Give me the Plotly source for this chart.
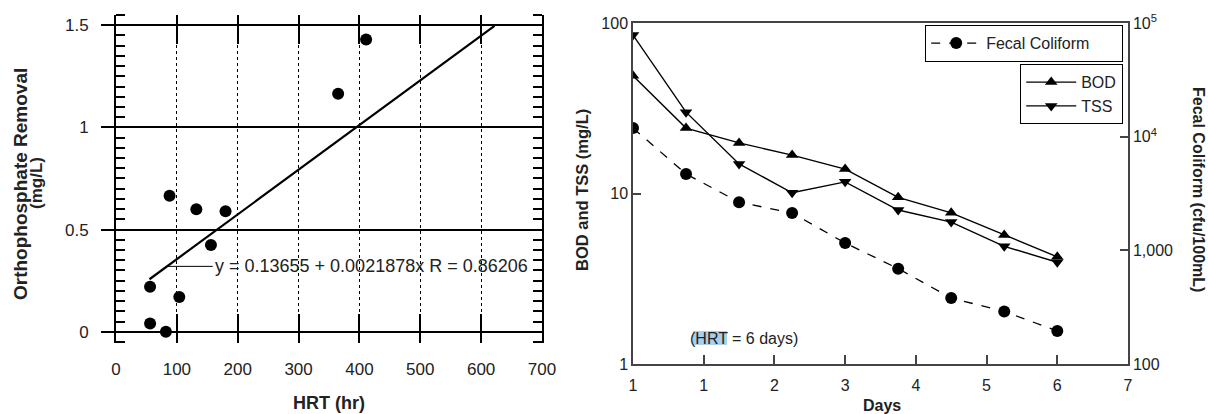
import plotly.graph_objects as go

# ---------------- data: left panel ----------------
hrt_hr = [56, 56, 82, 104, 88, 132, 180, 156, 365, 411]
ortho_removal = [0.22, 0.04, 0.0, 0.17, 0.665, 0.60, 0.59, 0.425, 1.165, 1.43]
fit_x = [55, 622]
fit_y = [0.257, 1.497]
left_xticks = [0, 100, 200, 300, 400, 500, 600, 700]
left_yticks = [0, 0.5, 1, 1.5]
left_yticklabels = ["0", "0.5", "1", "1.5"]
equation_text = "y = 0.13655 + 0.0021878x R = 0.86206"

# ---------------- data: right panel ----------------
days = [0, 0.75, 1.5, 2.25, 3, 3.75, 4.5, 5.25, 6]
fecal_coliform = [11900, 4700, 2650, 2130, 1160, 690, 380, 290, 195]
bod = [49, 24.2, 19.8, 16.8, 13.9, 9.5, 7.7, 5.7, 4.25]
tss = [85, 30, 14.9, 10.1, 11.7, 8.0, 6.8, 4.9, 3.95]
days_tickvals = [0, 1, 2, 3, 4, 5, 6, 7]
days_ticktext = ["1", "1", "2", "3", "4", "5", "6", "7"]
mg_tickvals = [1, 10, 100]
mg_ticktext = ["1", "10", "100"]
fc_tickvals = [100, 1000, 10000, 100000]
fc_ticktext = ["100", "1,000", "10<sup>4</sup>", "10<sup>5</sup>"]

W, H = 1208, 414
FONT = "Liberation Sans, Arial, sans-serif"
TXT = "#222222"
NB = "\u00a0"

def px(xp):
    return xp / W

def py(yp):
    return 1 - yp / H

fig = go.Figure()

# left panel traces
fig.add_trace(go.Scatter(x=hrt_hr, y=ortho_removal, mode="markers",
                         marker=dict(color="black", size=12, symbol="circle"),
                         xaxis="x", yaxis="y", showlegend=False))
fig.add_trace(go.Scatter(x=fit_x, y=fit_y, mode="lines",
                         line=dict(color="black", width=2.2),
                         xaxis="x", yaxis="y", showlegend=False))
# empty trace so the right-hand minor-tick axis of the left panel is drawn
fig.add_trace(go.Scatter(x=[], y=[], mode="markers", xaxis="x", yaxis="y4",
                         showlegend=False, hoverinfo="skip"))

# right panel traces
fig.add_trace(go.Scatter(x=days, y=fecal_coliform, mode="lines+markers",
                         name="Fecal Coliform" + NB * 6,
                         line=dict(color="black", width=1.3, dash="dash"),
                         marker=dict(color="black", size=12, symbol="circle"),
                         xaxis="x2", yaxis="y3", legend="legend"))
fig.add_trace(go.Scatter(x=days, y=bod, mode="lines+markers", name="BOD",
                         line=dict(color="black", width=1.4),
                         marker=dict(color="black", size=11, symbol="triangle-up"),
                         xaxis="x2", yaxis="y2", legend="legend2"))
fig.add_trace(go.Scatter(x=days, y=tss, mode="lines+markers", name="TSS",
                         line=dict(color="black", width=1.4),
                         marker=dict(color="black", size=11, symbol="triangle-down"),
                         xaxis="x2", yaxis="y2", legend="legend2"))

tickfont_l = dict(family=FONT, size=17, color=TXT)
tickfont_r = dict(family=FONT, size=16, color=TXT)
left_yrange = [-0.055, 1.55]

fig.update_layout(
    width=W, height=H,
    margin=dict(l=0, r=0, t=0, b=0, autoexpand=False),
    paper_bgcolor="white", plot_bgcolor="white",
    font=dict(family=FONT, color=TXT, size=16),
    xaxis=dict(domain=[px(116), px(542)], anchor="y", range=[0, 700],
               tickvals=left_xticks, ticks="inside", ticklen=29, tickwidth=2,
               tickcolor="black", mirror="ticks", showline=False,
               showgrid=True, gridcolor="black", gridwidth=1, griddash="dot",
               zeroline=False, tickfont=tickfont_l, ticklabelstandoff=14,
               automargin=False),
    yaxis=dict(domain=[py(343), py(15)], anchor="x", range=left_yrange,
               tickvals=left_yticks, ticktext=left_yticklabels,
               ticks="outside", ticklen=13, tickwidth=2, tickcolor="black",
               showline=True, linecolor="black", linewidth=2, mirror=True,
               showgrid=True, gridcolor="black", gridwidth=2,
               zeroline=False, tickfont=tickfont_l, automargin=False,
               ticklabelstandoff=9,
               minor=dict(ticks="inside", ticklen=9, tickwidth=1.5, tickcolor="black",
                          dtick=0.05, showgrid=False)),
    yaxis4=dict(overlaying="y", side="right", anchor="x", range=left_yrange,
                showticklabels=False, ticks="", showline=False, showgrid=False,
                zeroline=False, automargin=False,
                tickvals=left_yticks,
                minor=dict(ticks="inside", ticklen=9, tickwidth=1.5, tickcolor="black",
                           dtick=0.05, showgrid=False)),
    xaxis2=dict(domain=[px(633), px(1128)], anchor="y2", range=[0, 7],
                tickvals=days_tickvals, ticktext=days_ticktext,
                ticks="inside", ticklen=9, tickwidth=1.5, tickcolor="#444",
                showline=True, linecolor="#444", linewidth=1.5, mirror=True,
                showgrid=False, zeroline=False, tickfont=tickfont_r,
                ticklabelstandoff=6, automargin=False),
    yaxis2=dict(domain=[py(364), py(23)], anchor="x2", type="log", range=[0, 2],
                tickvals=mg_tickvals, ticktext=mg_ticktext,
                ticks="inside", ticklen=8, tickwidth=1.5, tickcolor="#444",
                showline=True, linecolor="#444", linewidth=1.5,
                showgrid=False, zeroline=False, tickfont=tickfont_r, automargin=False),
    yaxis3=dict(overlaying="y2", side="right", anchor="x2", type="log", range=[2, 5],
                tickvals=fc_tickvals, ticktext=fc_ticktext,
                ticks="inside", ticklen=8, tickwidth=1.5, tickcolor="#444",
                showline=True, linecolor="#444", linewidth=1.5,
                showgrid=False, zeroline=False, tickfont=tickfont_r, automargin=False),
    legend=dict(x=px(1123), xanchor="right", y=py(25), yanchor="top",
                bgcolor="white", bordercolor="black", borderwidth=1.2,
                font=dict(family=FONT, size=16, color=TXT), itemwidth=50),
    legend2=dict(x=px(1123), xanchor="right", y=py(64), yanchor="top",
                 bgcolor="white", bordercolor="black", borderwidth=1.2,
                 font=dict(family=FONT, size=16, color=TXT), itemwidth=50,
                 tracegroupgap=0),
)

shapes = []
# leader line from regression line to equation text
shapes.append(dict(type="line", xref="x", yref="y", x0=84, x1=159, y0=0.32, y1=0.32,
                   line=dict(color="black", width=1)))
# highlight behind "HRT"
shapes.append(dict(type="rect", xref="paper", yref="paper",
                   x0=px(693), x1=px(727), y0=py(345), y1=py(331),
                   fillcolor="#a9cfe9", line=dict(width=0), layer="above"))
fig.update_layout(shapes=shapes)

ann = []
ann.append(dict(text=equation_text, xref="x", yref="y", x=159, y=0.32,
                xanchor="left", yanchor="middle", showarrow=False,
                font=dict(family=FONT, size=18, color=TXT)))
ann.append(dict(text="<b>Orthophosphate Removal</b>", xref="paper", yref="paper",
                x=px(20), y=py(184), textangle=-90, showarrow=False,
                xanchor="center", yanchor="middle",
                font=dict(family=FONT, size=19, color=TXT)))
ann.append(dict(text="<b>(mg/L)</b>", xref="paper", yref="paper",
                x=px(37), y=py(183), textangle=-90, showarrow=False,
                xanchor="center", yanchor="middle",
                font=dict(family=FONT, size=17, color=TXT)))
ann.append(dict(text="<b>HRT (hr)</b>", xref="paper", yref="paper",
                x=px(329), y=py(403), showarrow=False,
                xanchor="center", yanchor="middle",
                font=dict(family=FONT, size=18, color=TXT)))
ann.append(dict(text="<b>Days</b>", xref="paper", yref="paper",
                x=px(882), y=py(405), showarrow=False,
                xanchor="center", yanchor="middle",
                font=dict(family=FONT, size=16, color=TXT)))
ann.append(dict(text="<b>BOD and TSS (mg/L)</b>", xref="paper", yref="paper",
                x=px(582), y=py(190), textangle=-90, showarrow=False,
                xanchor="center", yanchor="middle",
                font=dict(family=FONT, size=16.5, color=TXT)))
ann.append(dict(text="<b>Fecal Coliform (cfu/100mL)</b>", xref="paper", yref="paper",
                x=px(1199), y=py(189), textangle=90, showarrow=False,
                xanchor="center", yanchor="middle",
                font=dict(family=FONT, size=16, color=TXT)))
ann.append(dict(text="(HRT = 6 days)", xref="paper", yref="paper",
                x=px(743.5), y=py(338), showarrow=False,
                xanchor="center", yanchor="middle",
                font=dict(family=FONT, size=16, color=TXT)))
fig.update_layout(annotations=ann)

fig.write_html("out.html",
               config={"displayModeBar": False},
               post_script="document.body.style.margin='0';document.body.style.overflow='hidden';")
